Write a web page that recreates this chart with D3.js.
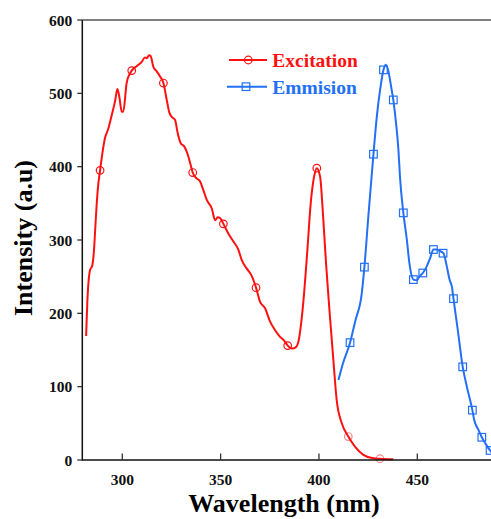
<!DOCTYPE html>
<html><head><meta charset="utf-8">
<script src="https://cdn.jsdelivr.net/npm/d3@7/dist/d3.min.js"></script>
<style>body{margin:0;background:#fff}svg{display:block}</style>
</head><body>
<svg id="c" width="491" height="519"></svg>
<script>
const excWl = [281.6,282.2,283.6,284.7,285.6,286.3,287,287.5,288.7,291.2,292.9,294.6,296.3,297.5,298.5,299.7,300.5,302.2,303.9,304.8,307.3,309.9,311.5,312.4,313.6,314.4,315.8,317.5,319.2,320.9,322.6,323.9,325.1,326.8,328,329.7,331.4,333.1,334.8,335.8,337.8,339.5,341.2,342.9,345.5,347.2,348.5,349.7,351.4,353.9,356.5,359,360.7,363.3,365.8,368,370,372.6,375.1,377.7,380.2,382.2,384.1,386.2,388.3,389.5,392,394.1,395.8,397.5,398.9,400.6,401.9,403.6,405.6,407.5,409,411.6,414.9,418.4,422.6,427.7,431,437.8];
const excI = [169,214,259,265,286,318,350,368,395,439,452,470,489,506,495,475,475,514,527,531,537,543,549,548,552,551,536,530,523,514,491,474,468,464,448,432,428,418,402,392,384,380,368,355,343,327,331,330,322,309,298,287,273,261,251,235,216,207,189,177,168,163,156,152,154,161,214,286,350,386,398,386,341,268,195,130,82,50,32,18,7,2.3,1.7,1];
const excMarkWl = [288.7,304.8,320.9,335.8,351.4,368,384.1,398.9,414.9,431];
const excMarkI = [395,531,514,392,322,235,156,398,32,1.7];

const emiWl = [409.9,412,415.8,418.5,421.8,423.1,425.1,427.7,429.4,431.1,432.8,434,435.3,436.7,437.8,439.2,440.4,441.2,442.9,444.7,446,448,449.7,451,453.1,454.8,456.5,458.2,459.9,461.5,463.3,465,466.4,467.6,468.4,470.7,473.1,475.2,478,478.9,481.1,482.8,484.5,487,488.5];
const emiI = [109,130,160,190,228,263,332,417,468,505,532,539,530,509,491,459,423,386,337,300,268,246,245,250,256,264,275,287,287,285,282,264,246,236,220,175,127,100,68,55,41,31,23,13,8];
const emiMarkWl = [415.8,423.1,427.7,432.8,437.8,442.9,448,452.8,458.2,463.1,468.4,473.1,478,482.8,487];
const emiMarkI = [160,263,417,532,491,337,246,255,287,282,220,127,68,31,13];

const xTicks = [300,350,400,450];
const yTicks = [0,100,200,300,400,500,600];
const seriesNames = ["Excitation","Emmision"];
const xTitle = "Wavelength (nm)";
const yTitle = "Intensity (a.u)";

const RED = "#ff1010", BLUE = "#2270f5";
const svg = d3.select("#c");
const L = 82.3, T = 20, B = 460;
const x = d3.scaleLinear().domain([300,450]).range([122.3,417.3]);
const y = d3.scaleLinear().domain([0,600]).range([B,T]);
const R = x(490.5);
const font = "'Liberation Serif','Times New Roman',serif";

svg.append("line").attr("x1",L).attr("x2",R).attr("y1",T).attr("y2",T).attr("stroke","#555").attr("stroke-width",1.5);

const line = d3.line().x(d=>x(d[0])).y(d=>y(d[1])).curve(d3.curveMonotoneX);
const excData = excWl.map((w,i)=>[w,excI[i]]);
const emiData = emiWl.map((w,i)=>[w,emiI[i]]);

svg.append("path").datum(excData).attr("d",line).attr("fill","none").attr("stroke",RED).attr("stroke-width",2).attr("stroke-linejoin","round");
svg.append("path").datum(emiData).attr("d",line).attr("fill","none").attr("stroke",BLUE).attr("stroke-width",2).attr("stroke-linejoin","round");

svg.selectAll(".em").data(excMarkWl.map((w,i)=>[w,excMarkI[i]])).enter().append("circle")
  .attr("cx",d=>x(d[0])).attr("cy",d=>y(d[1])).attr("r",3.8)
  .attr("fill","none").attr("stroke",RED).attr("stroke-width",1.2)
  .attr("opacity",(d,i)=>i>=8?0.5:1);
svg.selectAll(".sm").data(emiMarkWl.map((w,i)=>[w,emiMarkI[i]])).enter().append("rect")
  .attr("x",d=>x(d[0])-3.8).attr("y",d=>y(d[1])-3.8).attr("width",7.6).attr("height",7.6)
  .attr("fill","none").attr("stroke",BLUE).attr("stroke-width",1.2);

const ax = svg.append("g");
ax.append("line").attr("x1",L).attr("x2",L).attr("y1",T).attr("y2",B+0.75).attr("stroke","#111").attr("stroke-width",1.5);
ax.append("line").attr("x1",L).attr("x2",R).attr("y1",B).attr("y2",B).attr("stroke","#111").attr("stroke-width",1.5);
yTicks.forEach(t=>{
  ax.append("line").attr("x1",L-5).attr("x2",L).attr("y1",y(t)).attr("y2",y(t)).attr("stroke","#333").attr("stroke-width",1.3);
  ax.append("text").attr("x",L-10).attr("y",y(t)+5.5).attr("text-anchor","end")
    .attr("font-family",font).attr("font-weight","bold").attr("font-size",15.5).attr("fill","#111").text(t);
});
xTicks.forEach(t=>{
  ax.append("line").attr("x1",x(t)).attr("x2",x(t)).attr("y1",B).attr("y2",B-6.5).attr("stroke","#333").attr("stroke-width",1.3);
  ax.append("text").attr("x",x(t)).attr("y",485).attr("text-anchor","middle")
    .attr("font-family",font).attr("font-weight","bold").attr("font-size",15.5).attr("fill","#111").text(t);
});
svg.append("text").attr("x",284).attr("y",511.5).attr("text-anchor","middle")
  .attr("font-family",font).attr("font-weight","bold").attr("font-size",26).attr("fill","#000").text(xTitle);
svg.append("text").attr("transform","translate(32,238) rotate(-90)").attr("text-anchor","middle")
  .attr("font-family",font).attr("font-weight","bold").attr("font-size",26).attr("fill","#000").text(yTitle);

const lg = svg.append("g");
const legY = [60,86.7], cols=[RED,BLUE];
seriesNames.forEach((n,i)=>{
  lg.append("line").attr("x1",i?227:229).attr("x2",267).attr("y1",legY[i]).attr("y2",legY[i]).attr("stroke",cols[i]).attr("stroke-width",2);
  if(i===0) lg.append("circle").attr("cx",248.3).attr("cy",legY[i]).attr("r",3.8).attr("fill","none").attr("stroke",RED).attr("stroke-width",1.2);
  else lg.append("rect").attr("x",246-3.8).attr("y",legY[i]-3.8).attr("width",7.6).attr("height",7.6).attr("fill","none").attr("stroke",BLUE).attr("stroke-width",1.2);
  lg.append("text").attr("x",272.3).attr("y",legY[i]+6.8).attr("font-family",font).attr("font-weight","bold")
    .attr("font-size",19.5).attr("fill",cols[i]).text(n);
});
</script>
</body></html>
